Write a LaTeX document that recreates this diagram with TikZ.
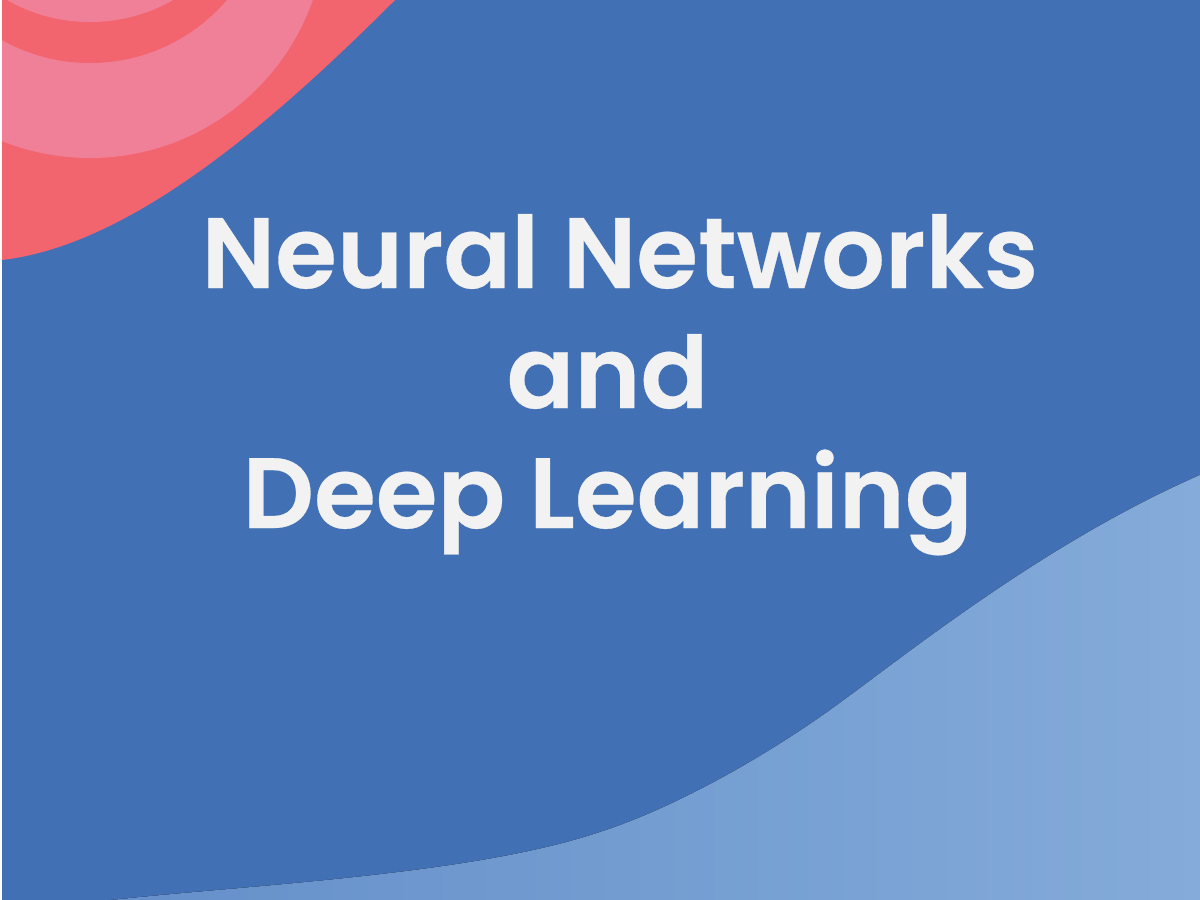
\documentclass[tikz,border=0pt]{standalone}
\usepackage{fontspec}
\setmainfont{Poppins}[BoldFont={Poppins SemiBold}, BoldFeatures={FakeBold=0.3}]
\usetikzlibrary{positioning}
\definecolor{bgblue}{HTML}{4270B4}
\definecolor{waveleft}{HTML}{648FC9}
\definecolor{waveright}{HTML}{84ABD9}
\definecolor{wavered}{HTML}{F2656F}
\definecolor{ringpink}{HTML}{F08097}
\definecolor{titlewhite}{HTML}{F2F2F2}
\tikzset{
    titleline/.style={text=titlewhite, font=\fontsize{100}{100}\selectfont\bfseries, inner sep=0pt, anchor=base}
}

\begin{document}
\begin{tikzpicture}[x=1pt, y=-1pt]
    % Background
    \fill[bgblue] (0, 0) rectangle (1200, 900);
    \fill[white] (0, 0) rectangle (2, 900);
    \useasboundingbox (0, 0) rectangle (1200, 900);

    % Light wave, bottom right
    \fill[left color=waveleft, right color=waveright] (111, 900) .. controls (250, 885) and (470, 875) .. (597, 833)
        .. controls (670, 810) and (760, 760) .. (830, 710)
        .. controls (900, 660) and (1040, 545) .. (1200, 475) -- (1200, 900) -- cycle;

    % Red corner with rings
    \begin{scope}
        \clip (2, 0) -- (395, 0) .. controls (270, 125) and (130, 245) .. (2, 260) -- cycle;
        \fill[wavered] (0, 0) rectangle (400, 265);
        \fill[ringpink] (90, -78) circle [radius=236];
        \fill[wavered] (90, -117) circle [radius=180];
        \fill[ringpink] (90, -146) circle [radius=168];
    \end{scope}

    % Title
    \node[titleline] (neural) at (620, 288) {Neural Networks};
    \node[titleline] (and) at (607.5, 408) {and};
    \node[titleline] (deep) at (607.5, 528) {Deep Learning};
\end{tikzpicture}
\end{document}
